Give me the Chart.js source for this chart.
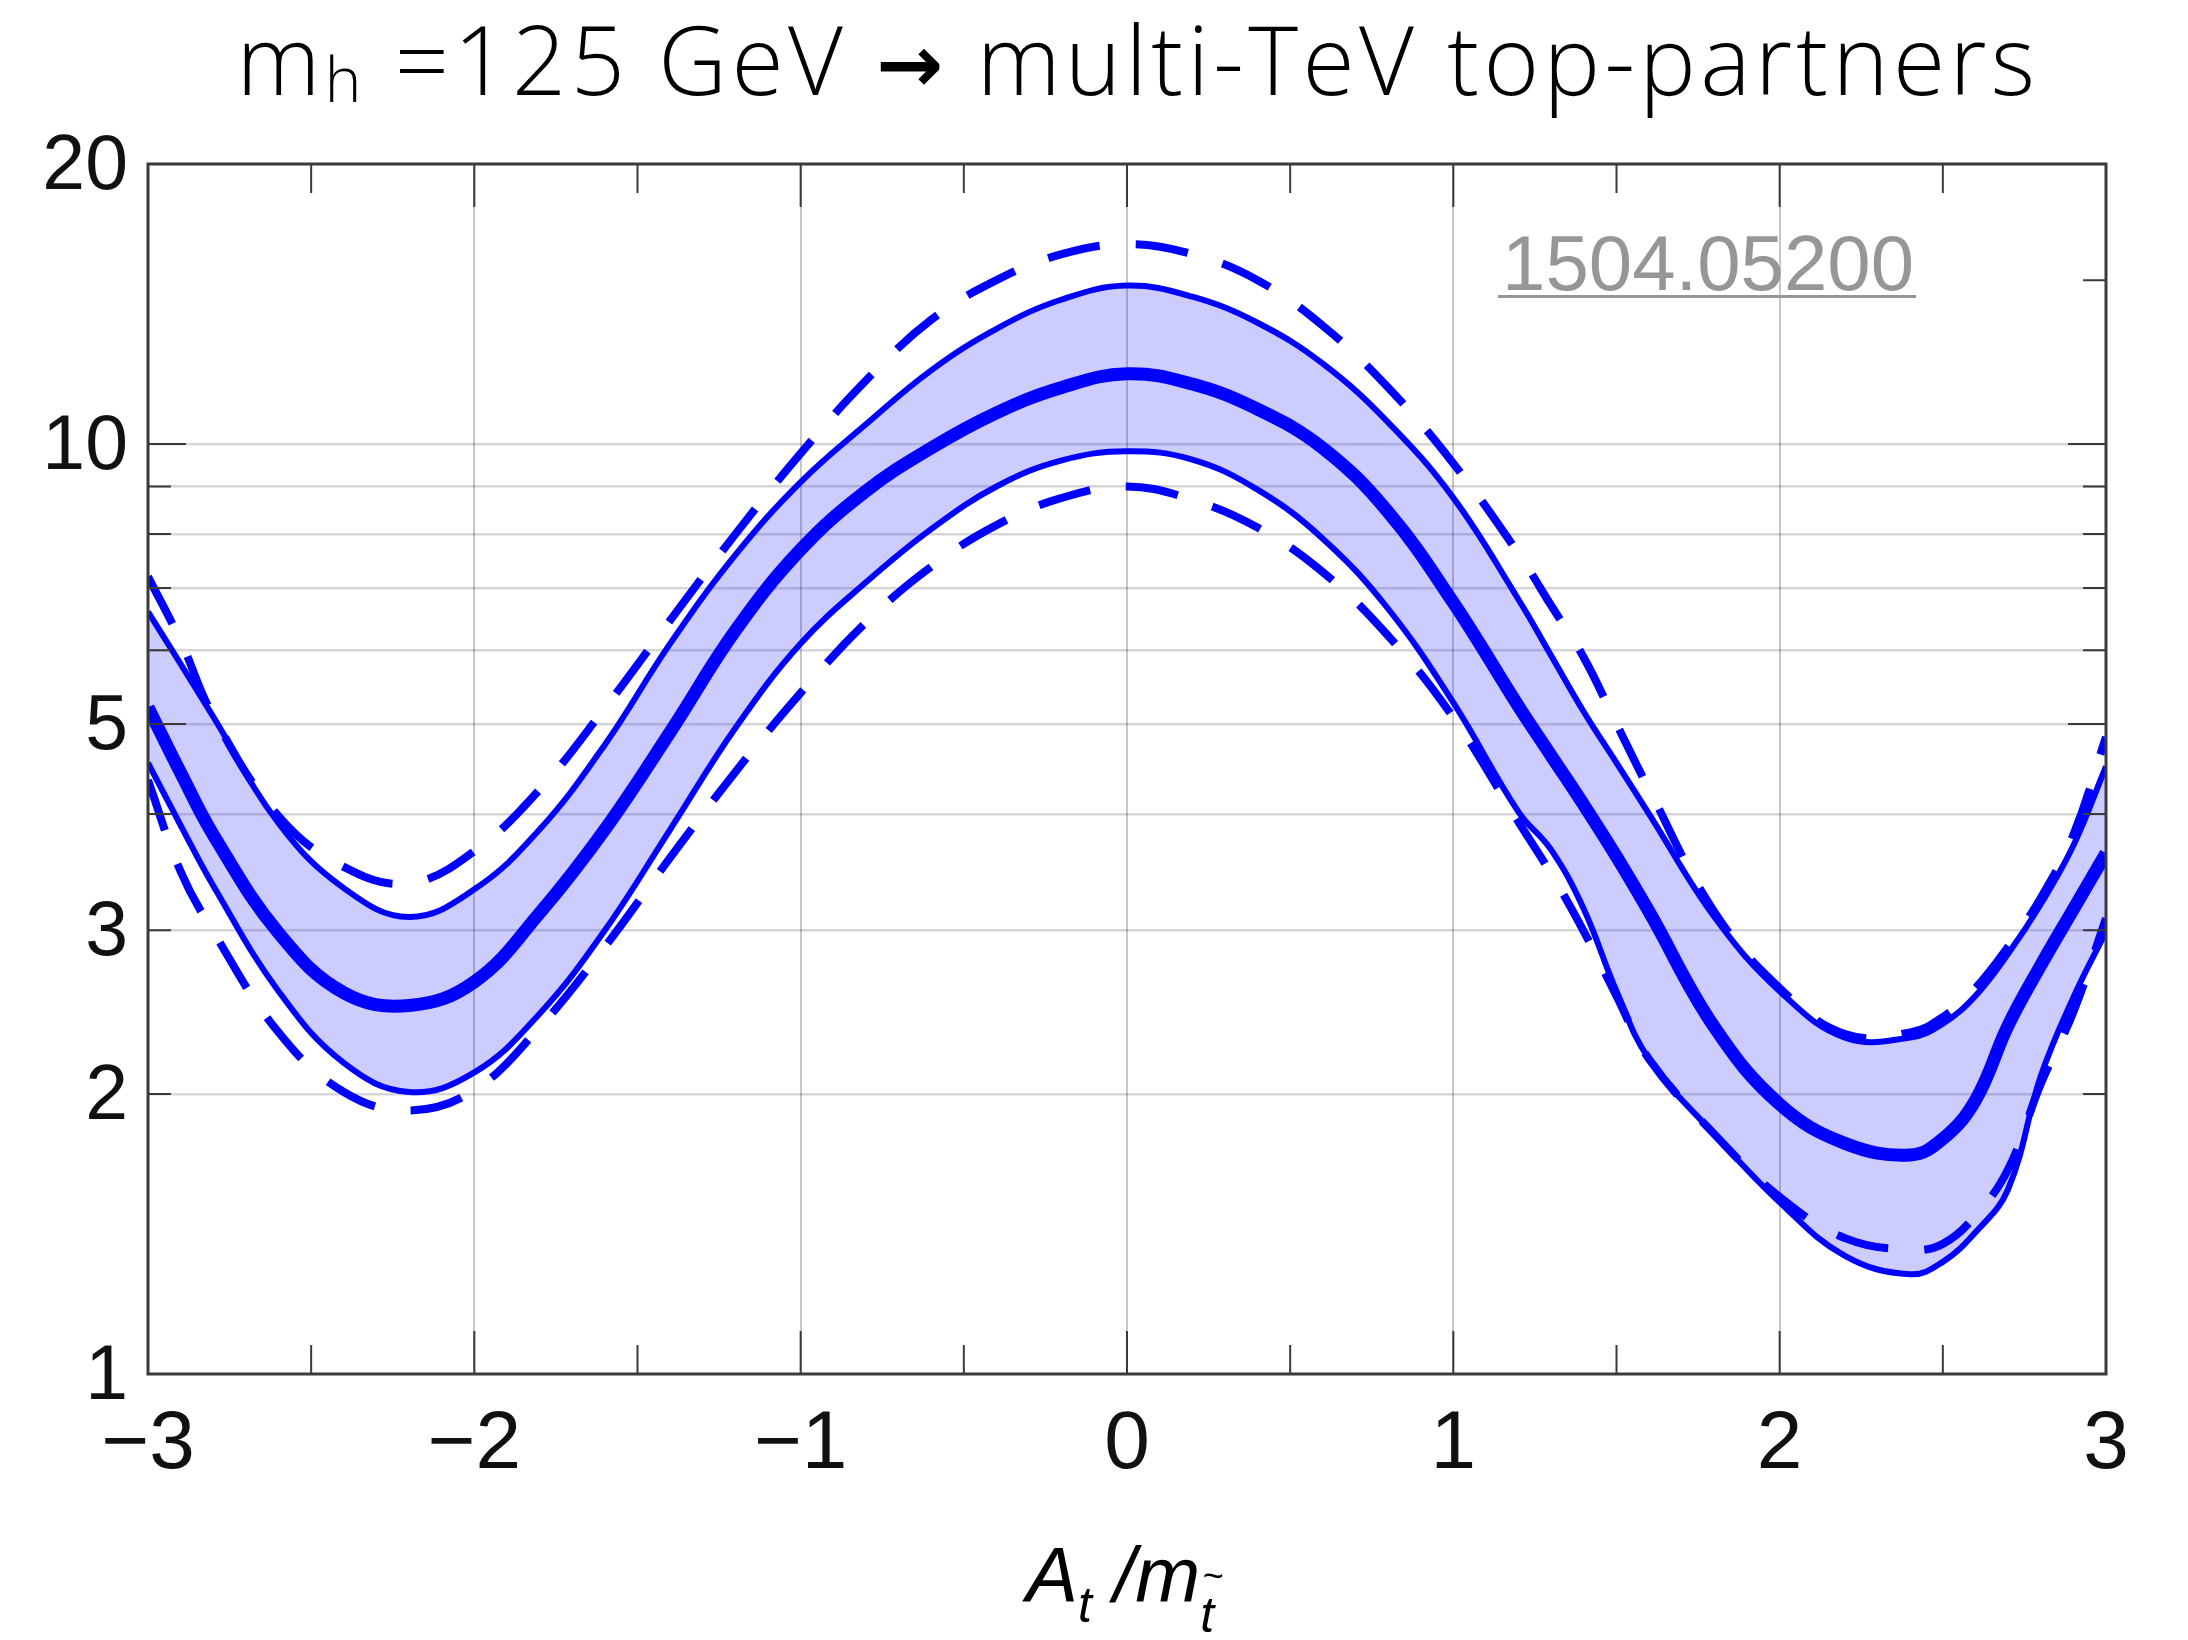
<!DOCTYPE html>
<html>
<head>
<meta charset="utf-8">
<title>mh = 125 GeV → multi-TeV top-partners</title>
<script src="https://cdn.jsdelivr.net/npm/chart.js@4.4.1/dist/chart.umd.min.js"></script>
<style>
    html, body { margin: 0; padding: 0; background: #fff; }
    canvas { display: block; }
</style>
</head>
<body>
<canvas id="combinedChart" width="2188" height="1640"></canvas>
<script>
const xs = [-3, -2.9, -2.8, -2.6, -2.4, -2.2, -2.0, -1.8, -1.6, -1.4, -1.2, -1.0, -0.8, -0.6, -0.4, -0.2, 0,
            0.2, 0.4, 0.6, 0.8, 1.0, 1.2, 1.3, 1.4, 1.5, 1.6, 1.8, 2.0, 2.2, 2.4, 2.5, 2.6, 2.7, 2.8, 2.9, 3.0];

const upperDashed = [7.2, 6.14, 5.1, 3.98, 3.51, 3.37, 3.65, 4.25, 5.2, 6.46, 8.0, 9.77, 11.7, 13.6, 15.0, 16.0, 16.4,
                     16.0, 15.0, 13.4, 11.5, 9.53, 7.62, 6.7, 5.89, 5.0, 4.25, 3.14, 2.6, 2.32, 2.33, 2.42, 2.6, 2.88, 3.25, 3.8, 4.84];
const upperSolid  = [6.6, 5.8, 5.09, 3.91, 3.33, 3.10, 3.32, 3.85, 4.75, 6.1, 7.6, 9.1, 10.5, 12.0, 13.3, 14.3, 14.8,
                     14.4, 13.5, 12.2, 10.55, 8.75, 6.8, 5.92, 5.15, 4.54, 4.0, 3.1, 2.58, 2.30, 2.30, 2.38, 2.55, 2.83, 3.2, 3.7, 4.5];
const central     = [5.21, 4.43, 3.80, 2.98, 2.57, 2.49, 2.64, 3.13, 3.85, 4.9, 6.3, 7.7, 8.9, 9.9, 10.8, 11.5, 11.9,
                     11.6, 10.9, 9.9, 8.45, 6.75, 5.22, 4.62, 4.09, 3.6, 3.14, 2.36, 1.95, 1.77, 1.72, 1.79, 1.97, 2.37, 2.75, 3.16, 3.63];
const lowerSolid  = [4.54, 3.89, 3.35, 2.58, 2.16, 2.01, 2.11, 2.44, 3.0, 3.85, 4.95, 6.1, 7.1, 8.1, 9.0, 9.6, 9.82,
                     9.62, 8.93, 7.91, 6.65, 5.27, 4.02, 3.66, 3.16, 2.58, 2.18, 1.81, 1.53, 1.34, 1.28, 1.32, 1.42, 1.58, 2.09, 2.54, 2.99];
const lowerDashed = [4.35, 3.47, 2.99, 2.33, 2.01, 1.92, 2.02, 2.36, 2.88, 3.59, 4.44, 5.40, 6.43, 7.38, 8.18, 8.75, 9.0,
                     8.71, 8.13, 7.28, 6.22, 5.08, 3.92, 3.45, 2.99, 2.55, 2.18, 1.81, 1.55, 1.40, 1.36, 1.38, 1.48, 1.66, 2.05, 2.45, 3.09];

// axis ticks
const yTicks = [1, 2, 3, 4, 5, 6, 7, 8, 9, 10, 20];
const yLabels = [1, 2, 3, 5, 10, 20];
const yLongTicks = [5, 10];
const yRightOnlyTicks = [15];
const xMajorTicks = [-2, -1, 0, 1, 2];
const xMinorTicks = [-2.5, -1.5, -0.5, 0.5, 1.5, 2.5];

const blue = '#0000ff';

function pts(values) {
    return xs.map((x, i) => ({ x: x, y: values[i] }));
}

// draws text pieces side by side, centred on centerX; spreads the letters to fill fitWidth if given
function drawRuns(ctx, runs, centerX, fitWidth) {
    let total = 0;
    let chars = 0;
    ctx.letterSpacing = '0px';
    runs.forEach(r => {
        ctx.font = r.font;
        r.w = ctx.measureText(r.text).width;
        total += r.w;
        chars += r.text.length;
    });
    const spacing = fitWidth ? (fitWidth - total) / chars : 0;
    let x = centerX - (total + spacing * chars) / 2;
    runs.forEach(r => {
        ctx.font = r.font;
        ctx.letterSpacing = spacing + 'px';
        ctx.fillText(r.text, x, r.y);
        r.left = x;
        x += r.w + spacing * r.text.length;
    });
    ctx.letterSpacing = '0px';
    return runs;
}

// frame, inward ticks, title, axis title and the arXiv tag
const decorations = {
    id: 'decorations',
    afterDraw(chart) {
        const ctx = chart.ctx;
        const a = chart.chartArea;
        const xScale = chart.scales.x;
        const yScale = chart.scales.y;
        ctx.save();

        ctx.strokeStyle = '#3a3a3a';
        ctx.lineWidth = 2;
        ctx.beginPath();
        xMajorTicks.forEach(v => {
            const px = xScale.getPixelForValue(v);
            ctx.moveTo(px, a.top); ctx.lineTo(px, a.top + 43);
            ctx.moveTo(px, a.bottom); ctx.lineTo(px, a.bottom - 43);
        });
        xMinorTicks.forEach(v => {
            const px = xScale.getPixelForValue(v);
            ctx.moveTo(px, a.top); ctx.lineTo(px, a.top + 29);
            ctx.moveTo(px, a.bottom); ctx.lineTo(px, a.bottom - 29);
        });
        yTicks.slice(1, -1).forEach(v => {
            const py = yScale.getPixelForValue(v);
            const len = yLongTicks.includes(v) ? 38 : 23;
            ctx.moveTo(a.left, py); ctx.lineTo(a.left + len, py);
            ctx.moveTo(a.right, py); ctx.lineTo(a.right - len, py);
        });
        yRightOnlyTicks.forEach(v => {
            const py = yScale.getPixelForValue(v);
            ctx.moveTo(a.right, py); ctx.lineTo(a.right - 23, py);
        });
        ctx.stroke();

        ctx.lineWidth = 3;
        ctx.strokeRect(a.left, a.top, a.right - a.left, a.bottom - a.top);

        // title
        ctx.fillStyle = '#000';
        ctx.textAlign = 'left';
        ctx.textBaseline = 'alphabetic';
        const tf = '300 95px "Open Sans", Roboto, sans-serif';
        drawRuns(ctx, [
            { text: 'm', font: tf, y: 95 },
            { text: 'h', font: '300 62px "Open Sans", Roboto, sans-serif', y: 102 },
            { text: ' =125 GeV ', font: tf, y: 95 },
            { text: '→', font: 'bold 80px "DejaVu Sans", sans-serif', y: 92 },
            { text: ' multi-TeV top-partners', font: tf, y: 95 }
        ], 1138, 1803);

        // x axis title  A_t / m_t~
        const big = 'italic 78px "Liberation Sans", Arial, sans-serif';
        const sub = 'italic 50px "Liberation Sans", Arial, sans-serif';
        const runs = drawRuns(ctx, [
            { text: 'A', font: big, y: 1602 },
            { text: 't', font: sub, y: 1622 },
            { text: ' /', font: big, y: 1602 },
            { text: 'm', font: big, y: 1602 },
            { text: 't', font: sub, y: 1632 }
        ], 1120);
        const last = runs[runs.length - 1];
        ctx.font = 'italic 36px "Liberation Sans", Arial, sans-serif';
        ctx.fillText('~', last.left + 2, 1588);

        // arXiv tag
        ctx.fillStyle = '#969696';
        ctx.font = '78px "Liberation Sans", Arial, sans-serif';
        ctx.fillText('1504.05200', 1502, 290);
        const w = ctx.measureText('1504.05200').width;
        ctx.fillRect(1498, 295, w + 6, 3);

        ctx.restore();
    }
};

const ctx = document.getElementById('combinedChart').getContext('2d');

new Chart(ctx, {
    type: 'line',
    data: {
        datasets: [
            {
                label: 'lower',
                data: pts(lowerSolid),
                borderColor: blue,
                borderWidth: 6,
                fill: false
            },
            {
                label: 'upper',
                data: pts(upperSolid),
                borderColor: blue,
                borderWidth: 6,
                backgroundColor: 'rgba(0, 0, 255, 0.2)',
                fill: 0
            },
            {
                label: 'upper dashed',
                data: pts(upperDashed),
                borderColor: blue,
                borderWidth: 8,
                borderDash: [53, 36],
                fill: false
            },
            {
                label: 'lower dashed',
                data: pts(lowerDashed),
                borderColor: blue,
                borderWidth: 8,
                borderDash: [53, 36],
                fill: false
            },
            {
                label: 'central',
                data: pts(central),
                borderColor: blue,
                borderWidth: 13,
                fill: false
            }
        ]
    },
    options: {
        responsive: false,
        animation: false,
        devicePixelRatio: 1,
        layout: { padding: { top: 164, right: 82, left: 0, bottom: 0 } },
        elements: {
            point: { radius: 0 },
            line: { tension: 0.4, borderJoinStyle: 'round' }
        },
        datasets: { line: { clip: 0 } },
        plugins: {
            legend: { display: false },
            tooltip: { enabled: false }
        },
        scales: {
            x: {
                type: 'linear',
                min: -3,
                max: 3,
                afterFit: s => { s.height = 266; },
                border: { display: false },
                grid: {
                    drawTicks: false,
                    lineWidth: 2,
                    color: c => (Math.abs(c.tick.value) === 3 ? 'rgba(0,0,0,0)' : 'rgba(0,0,0,0.22)')
                },
                ticks: {
                    stepSize: 1,
                    padding: 22,
                    maxRotation: 0,
                    autoSkip: false,
                    color: '#111',
                    font: { family: '"Liberation Sans", Arial, sans-serif', size: 82 },
                    callback: v => (v < 0 ? '\u2212' + Math.abs(v) : String(v))
                }
            },
            y: {
                type: 'logarithmic',
                min: 1,
                max: 20,
                afterFit: s => { s.width = 148; },
                afterBuildTicks: s => { s.ticks = yTicks.map(v => ({ value: v })); },
                border: { display: false },
                grid: {
                    drawTicks: false,
                    lineWidth: 2.5,
                    color: c => (c.tick.value === 1 || c.tick.value === 20 ? 'rgba(0,0,0,0)' : 'rgba(0,0,0,0.16)')
                },
                ticks: {
                    padding: 20,
                    labelOffset: 4,
                    autoSkip: false,
                    color: '#111',
                    font: { family: '"Liberation Sans", Arial, sans-serif', size: 77 },
                    callback: v => (yLabels.includes(v) ? String(v) : '')
                }
            }
        }
    },
    plugins: [decorations]
});
</script>
</body>
</html>
